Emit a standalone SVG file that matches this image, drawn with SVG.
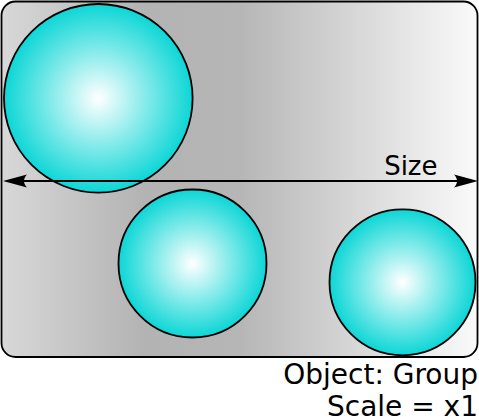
<svg xmlns="http://www.w3.org/2000/svg" width="479" height="419" viewBox="0 0 479 419">
<style>
.ball{fill:url(#ballGrad);stroke:#000;stroke-width:1.8}
.lbl{font-family:"DejaVu Sans",sans-serif;fill:#000}
</style>
<defs>
<linearGradient id="bgGrad" x1="0" y1="0" x2="1" y2="0">
<stop offset="0" stop-color="#d8d8d8"/>
<stop offset="0.3" stop-color="#b3b3b3"/>
<stop offset="0.5" stop-color="#b6b6b6"/>
<stop offset="1" stop-color="#fafafa"/>
</linearGradient>
<radialGradient id="ballGrad" cx="0.5" cy="0.5" r="0.5">
<stop offset="0" stop-color="#ffffff"/>
<stop offset="1" stop-color="#0dd6d6"/>
</radialGradient>
<marker id="arr" markerUnits="userSpaceOnUse" markerWidth="40" markerHeight="40" refX="0" refY="0" orient="auto-start-reverse" overflow="visible">
<path d="M12,0 L-12,-6.5 C-8,-2.5 -8,2.5 -12,6.5 Z" fill="#000"/>
</marker>
</defs>
<g id="group-frame">
<rect x="1.5" y="1.5" width="476" height="355.5" rx="14" ry="14" fill="url(#bgGrad)" stroke="#000" stroke-width="1.8"/>
</g>
<g id="circle-large"><circle class="ball" cx="98.3" cy="98.3" r="94.3"/></g>
<g id="circle-middle"><circle class="ball" cx="192.5" cy="263.5" r="74"/></g>
<g id="circle-right"><circle class="ball" cx="402.5" cy="282.3" r="73"/></g>
<g id="connectors">
<line x1="15" y1="181" x2="466" y2="181" stroke="#000" stroke-width="2" marker-start="url(#arr)" marker-end="url(#arr)"/>
<text class="lbl" x="437.5" y="175" font-size="26" text-anchor="end">Size</text>
</g>
<g id="caption">
<text class="lbl" x="478" y="384" font-size="28" text-anchor="end">Object: Group</text>
<text class="lbl" x="478" y="416" font-size="28" text-anchor="end">Scale = x1</text>
</g>
</svg>
